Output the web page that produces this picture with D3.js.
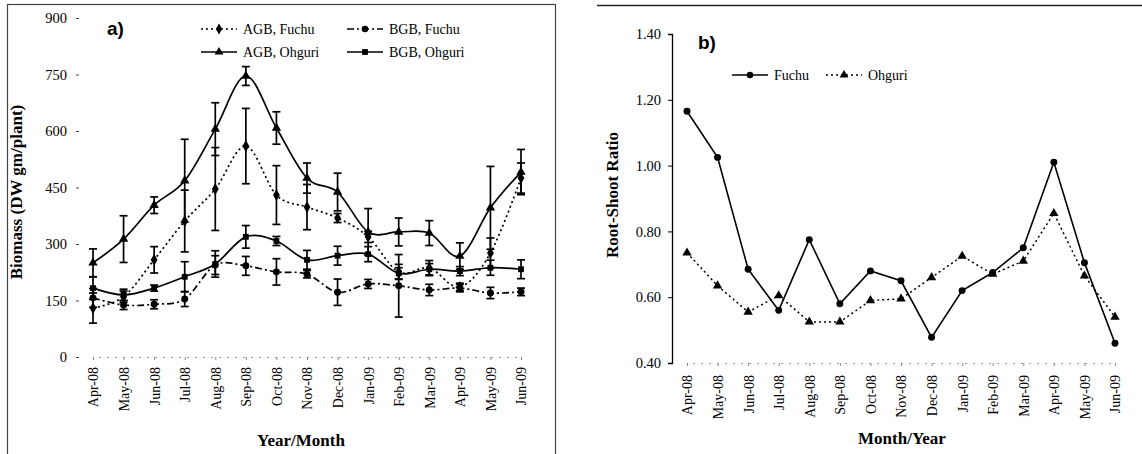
<!DOCTYPE html>
<html>
<head>
<meta charset="utf-8">
<script src="https://cdn.jsdelivr.net/npm/d3@7"></script>
<style>
  body { margin: 0; background: #fff; }
  svg { display: block; }
  text { font-family: "Liberation Serif", "DejaVu Serif", serif; fill: #000; }
  .panel-tag { font-family: "Liberation Sans", Arial, sans-serif; font-weight: bold; font-size: 19px; }
  .axis-title { font-weight: bold; font-size: 17px; }
</style>
</head>
<body>
<svg id="chart" width="1142" height="454"></svg>
<script>
// months shared by both panels
const months = ["Apr-08","May-08","Jun-08","Jul-08","Aug-08","Sep-08","Oct-08","Nov-08",
                "Dec-08","Jan-09","Feb-09","Mar-09","Apr-09","May-09","Jun-09"];

// panel a - biomass (DW gm/plant)
const agbFuchu   = [130, 160, 258, 361, 446, 560, 430, 398, 369, 319, 226, 236, 186, 276, 475];
const agbFuchuSE = [ 40,  15,  35,  82, 110, 100,  78,  60,  12,  15,  20,  20,  10,  40,  40];
const bgbFuchu   = [157, 138, 140, 154, 244, 242, 226, 220, 172, 194, 189, 178, 183, 170, 173];
const bgbFuchuSE = [ 25,  12,  12,  20,  25,  25,  35,  10,  35,  12,  83,  15,  10,  15,  10];
const agbOhguri   = [250, 313, 403, 468, 605, 746, 608, 475, 438, 332, 332, 329, 268, 396, 491];
const agbOhguriSE = [ 37,  62,  22, 110,  70,  25,  43,  40,  50,  62,  37,  33,  35, 110,  60];
const bgbOhguri   = [183, 165, 183, 213, 247, 319, 308, 258, 269, 273, 222, 233, 228, 237, 233];
const bgbOhguriSE = [ 30,  15,   8,  40,  35,  30,  12,  25,  25,  20,  15,  15,  12,  20,  25];
const biomassTicks = [0, 150, 300, 450, 600, 750, 900];

// panel b - root/shoot ratio
const ratioFuchu  = [1.165, 1.025, 0.685, 0.56, 0.775, 0.58, 0.68, 0.65, 0.478, 0.62, 0.675, 0.75, 1.01, 0.705, 0.46];
const ratioOhguri = [0.735, 0.635, 0.555, 0.605, 0.525, 0.525, 0.59, 0.595, 0.66, 0.725, 0.67, 0.71, 0.855, 0.665, 0.54];
const ratioTicks = [0.4, 0.6, 0.8, 1.0, 1.2, 1.4];

const svg = d3.select("#chart");

// panel frames
svg.append("rect").attr("x", 7.5).attr("y", 4.5).attr("width", 548).attr("height", 470)
    .style("fill", "none").style("stroke", "#444").style("stroke-width", 1.2);
svg.append("line").attr("x1", 597).attr("y1", 5.5).attr("x2", 1142).attr("y2", 5.5)
    .style("stroke", "#222").style("stroke-width", 1.5);

function symbolPath(type, size) {
    return d3.symbol().type(type).size(size)();
}

function drawLegendItem(g, x, y, dash, symType, label) {
    g.append("line").attr("x1", x).attr("x2", x + 36).attr("y1", y).attr("y2", y)
        .style("stroke", "#000").style("stroke-width", 1.4)
        .style("stroke-dasharray", dash);
    g.append("path").attr("d", symbolPath(symType, 34))
        .attr("transform", `translate(${x + 18},${y})`);
    g.append("text").attr("x", x + 42).attr("y", y + 5)
        .style("font-size", "14px").text(label);
}

// ---------- panel a ----------
const xa = d3.scalePoint().domain(months).range([93, 521]);
const ya = d3.scaleLinear().domain([0, 900]).range([357, 18]);

const ga = svg.append("g");

ga.append("g").attr("transform", "translate(79,0)")
    .call(d3.axisLeft(ya).tickValues(biomassTicks).tickSize(3).tickPadding(9))
    .call(g => g.select(".domain").remove())
    .call(g => g.selectAll(".tick line").style("stroke", "#444"))
    .call(g => g.selectAll("text").style("font-size", "14.5px")
        .style("font-family", "Liberation Serif").style("fill", "#000"));

ga.append("g").attr("transform", `translate(0,${ya(0)})`)
    .call(d3.axisBottom(xa).tickSize(3).tickPadding(4))
    .call(g => g.select(".domain").style("stroke", "#999").style("stroke-dasharray", "2 6"))
    .call(g => g.selectAll(".tick line").style("stroke", "#888"))
    .call(g => g.selectAll("text").style("font-size", "14px")
        .style("font-family", "Liberation Serif").style("fill", "#000")
        .attr("transform", "rotate(-90)").attr("text-anchor", "end")
        .attr("x", -10).attr("y", 0).attr("dy", "0.35em"));

const seriesA = [
    {vals: agbFuchu, err: agbFuchuSE, dash: "2 3", sym: d3.symbolDiamond, size: 40},
    {vals: bgbFuchu, err: bgbFuchuSE, dash: "7 3 2 3", sym: d3.symbolCircle, size: 38},
    {vals: agbOhguri, err: agbOhguriSE, dash: null, sym: d3.symbolTriangle, size: 38},
    {vals: bgbOhguri, err: bgbOhguriSE, dash: null, sym: d3.symbolSquare, size: 34}
];

const smooth = d3.line().x((d, i) => xa(months[i])).y(d => ya(d))
    .curve(d3.curveCatmullRom.alpha(0));

seriesA.forEach(s => {
    // error bars
    const eb = ga.append("g");
    s.vals.forEach((v, i) => {
        const x = xa(months[i]);
        const lo = ya(v - s.err[i]), hi = ya(v + s.err[i]);
        eb.append("line").attr("x1", x).attr("x2", x).attr("y1", lo).attr("y2", hi)
            .style("stroke", "#000").style("stroke-width", 1.7);
        [lo, hi].forEach(yy => eb.append("line")
            .attr("x1", x - 4).attr("x2", x + 4).attr("y1", yy).attr("y2", yy)
            .style("stroke", "#000").style("stroke-width", 1.7));
    });
    ga.append("path").datum(s.vals).attr("d", smooth)
        .style("fill", "none").style("stroke", "#000").style("stroke-width", 1.7)
        .style("stroke-dasharray", s.dash);
    ga.selectAll(null).data(s.vals).enter().append("path")
        .attr("d", symbolPath(s.sym, s.size))
        .attr("transform", (d, i) => `translate(${xa(months[i])},${ya(d)})`);
});

ga.append("text").attr("class", "panel-tag").attr("x", 107).attr("y", 35).text("a)");
drawLegendItem(ga, 201, 29, "2 3", d3.symbolDiamond, "AGB, Fuchu");
drawLegendItem(ga, 347, 29, "7 3 2 3", d3.symbolCircle, "BGB, Fuchu");
drawLegendItem(ga, 201, 52, null, d3.symbolTriangle, "AGB, Ohguri");
drawLegendItem(ga, 347, 52, null, d3.symbolSquare, "BGB, Ohguri");

ga.append("text").attr("class", "axis-title").attr("text-anchor", "middle")
    .attr("transform", "translate(22,192) rotate(-90)").text("Biomass (DW gm/plant)");
ga.append("text").attr("class", "axis-title").attr("text-anchor", "middle")
    .attr("x", 301).attr("y", 446).text("Year/Month");

// ---------- panel b ----------
const xb = d3.scalePoint().domain(months).range([687, 1115]);
const yb = d3.scaleLinear().domain([0.4, 1.4]).range([363, 34]);

const gb = svg.append("g");

gb.append("g").attr("transform", "translate(672,0)")
    .call(d3.axisLeft(yb).tickValues(ratioTicks).tickSize(4).tickPadding(7).tickFormat(d3.format(".2f")))
    .call(g => g.select(".domain").style("stroke", "#000").style("stroke-width", 1.3))
    .call(g => g.selectAll("text").style("font-size", "14.5px")
        .style("font-family", "Liberation Serif").style("fill", "#000"));

gb.append("g").attr("transform", `translate(0,${yb(0.4)})`)
    .call(d3.axisBottom(xb).tickSize(3).tickPadding(4))
    .call(g => g.select(".domain").style("stroke", "#999").style("stroke-dasharray", "2 6"))
    .call(g => g.selectAll(".tick line").style("stroke", "#888"))
    .call(g => g.selectAll("text").style("font-size", "14px")
        .style("font-family", "Liberation Serif").style("fill", "#000")
        .attr("transform", "rotate(-90)").attr("text-anchor", "end")
        .attr("x", -12).attr("y", 0).attr("dy", "0.35em"));

const straight = d3.line().x((d, i) => xb(months[i])).y(d => yb(d));

gb.append("path").datum(ratioOhguri).attr("d", straight)
    .style("fill", "none").style("stroke", "#000").style("stroke-width", 1.5)
    .style("stroke-dasharray", "2 3");
gb.selectAll(null).data(ratioOhguri).enter().append("path")
    .attr("d", symbolPath(d3.symbolTriangle, 38))
    .attr("transform", (d, i) => `translate(${xb(months[i])},${yb(d)})`);

gb.append("path").datum(ratioFuchu).attr("d", straight)
    .style("fill", "none").style("stroke", "#000").style("stroke-width", 1.6);
gb.selectAll(null).data(ratioFuchu).enter().append("path")
    .attr("d", symbolPath(d3.symbolCircle, 38))
    .attr("transform", (d, i) => `translate(${xb(months[i])},${yb(d)})`);

gb.append("text").attr("class", "panel-tag").attr("x", 698).attr("y", 49).text("b)");
drawLegendItem(gb, 732, 75, null, d3.symbolCircle, "Fuchu");
drawLegendItem(gb, 826, 75, "2 3", d3.symbolTriangle, "Ohguri");

gb.append("text").attr("class", "axis-title").attr("text-anchor", "middle")
    .attr("transform", "translate(618,195) rotate(-90)").text("Root-Shoot Ratio");
gb.append("text").attr("class", "axis-title").attr("text-anchor", "middle")
    .attr("x", 902).attr("y", 444).text("Month/Year");
</script>
</body>
</html>
